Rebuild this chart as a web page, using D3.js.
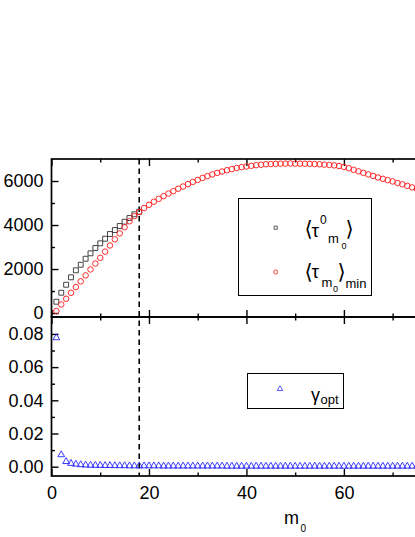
<!DOCTYPE html>
<html>
<head>
<meta charset="utf-8">
<script src="https://cdn.jsdelivr.net/npm/d3@7"></script>
<style>
    body { margin: 0; background: #fff; }
    svg { display: block; font-family: "Liberation Sans", Arial, sans-serif; }
</style>
</head>
<body>
<div class="chart"></div>
<script>
// <tau^0_m0> : only computed up to the dashed line
const tauZero = [514, 923, 1286, 1623, 1941, 2195, 2468, 2714, 2955, 3168,
    3377, 3591, 3773, 3955, 4150, 4318, 4486, 4605];

// <tau_m0>_min
const tauMin = [90, 390, 650, 920, 1180, 1440, 1710, 1980, 2250, 2510,
    2790, 3070, 3350, 3620, 3900, 4170, 4400, 4590, 4770, 4920,
    5060, 5190, 5310, 5430, 5540, 5650, 5750, 5860, 5960, 6050,
    6140, 6220, 6300, 6370, 6430, 6490, 6540, 6590, 6630, 6660,
    6690, 6720, 6740, 6760, 6770, 6780, 6790, 6790, 6795, 6790,
    6790, 6785, 6780, 6770, 6760, 6745, 6730, 6710, 6680, 6640,
    6580, 6510, 6440, 6370, 6300, 6230, 6160, 6100, 6040, 5980,
    5910, 5850, 5780, 5710, 5640];

// gamma_opt
const gammaOpt = [0.0777, 0.0072, 0.0031, 0.0020, 0.0015, 0.0012, 0.0010, 0.0009, 0.0008, 0.0008,
    0.0007, 0.0007, 0.0006, 0.0006, 0.0006, 0.0005, 0.0005, 0.0005, 0.0005, 0.0005,
    0.0005, 0.0005, 0.0004, 0.0004, 0.0004, 0.0004, 0.0004, 0.0004, 0.0004, 0.0004,
    0.0004, 0.0004, 0.0004, 0.0004, 0.0004, 0.0003, 0.0003, 0.0003, 0.0003, 0.0003,
    0.0003, 0.0003, 0.0003, 0.0003, 0.0003, 0.0003, 0.0003, 0.0003, 0.0003, 0.0003,
    0.0003, 0.0003, 0.0003, 0.0003, 0.0003, 0.0003, 0.0003, 0.0003, 0.0003, 0.0003,
    0.0003, 0.0003, 0.0003, 0.0003, 0.0003, 0.0003, 0.0003, 0.0003, 0.0003, 0.0003,
    0.0003, 0.0003, 0.0003, 0.0003, 0.0003];

const xTicksMajor = [0, 20, 40, 60];
const xTicksMinor = [10, 30, 50, 70];
const tauTicksMajor = [0, 2000, 4000, 6000];
const tauTicksMinor = [1000, 3000, 5000];
const gammaTicksMajor = [0, 0.02, 0.04, 0.06, 0.08];
const gammaTicksMinor = [0.01, 0.03, 0.05, 0.07];
const optimalM0 = 18;

const W = 415, H = 537;
const left = 51.5, right = 417;
const topY = 159, midY = 317, bottomY = 476;

const svg = d3.select(".chart").append("svg")
    .attr("width", W)
    .attr("height", H);

const x = d3.scaleLinear().domain([0, 75]).range([left, right]);
const yTau = d3.scaleLinear().domain([-180, 7000]).range([midY, topY]);
const yGamma = d3.scaleLinear().domain([-0.0056, 0.0902]).range([bottomY, midY]);

const asPoints = (arr) => arr.map((v, i) => ({m: i + 1, v: v}));

function drawTicks(g, axis, values, size, fmt) {
    g.call(axis.tickValues(values).tickSize(size).tickSizeOuter(0)
        .tickFormat(fmt || ""))
        .call(s => s.select(".domain").remove());
    g.selectAll(".tick line").attr("stroke", "#000").attr("stroke-width", 1.4);
    g.selectAll(".tick text")
        .attr("fill", "#000")
        .style("font-size", "18px")
        .style("font-family", "'Liberation Sans', Arial, sans-serif");
}

function drawPanel(y0, y1, yScale, major, minor, fmt) {
    const g = svg.append("g");
    // inward ticks on all sides
    drawTicks(g.append("g").attr("transform", `translate(${left},0)`),
        d3.axisLeft(yScale).tickPadding(8), major, -7, fmt);
    drawTicks(g.append("g").attr("transform", `translate(${left},0)`),
        d3.axisLeft(yScale), minor, -3.5);
    drawTicks(g.append("g").attr("transform", `translate(0,${y0})`),
        d3.axisTop(x), xTicksMajor, -7);
    drawTicks(g.append("g").attr("transform", `translate(0,${y0})`),
        d3.axisTop(x), xTicksMinor, -3.5);
    drawTicks(g.append("g").attr("transform", `translate(0,${y1})`),
        d3.axisBottom(x), xTicksMajor, -7);
    drawTicks(g.append("g").attr("transform", `translate(0,${y1})`),
        d3.axisBottom(x), xTicksMinor, -3.5);
    g.append("rect")
        .attr("x", left).attr("y", y0)
        .attr("width", right + 10 - left).attr("height", y1 - y0)
        .attr("fill", "none").attr("stroke", "#000").attr("stroke-width", 1.7);
    return g;
}

drawPanel(topY, midY, yTau, tauTicksMajor, tauTicksMinor, d3.format("d"));
drawPanel(midY, bottomY, yGamma, gammaTicksMajor, gammaTicksMinor, d3.format(".2f"));

// x tick labels only on the bottom axis
drawTicks(svg.append("g").attr("transform", `translate(0,${bottomY})`),
    d3.axisBottom(x).tickPadding(10), xTicksMajor, 0, d3.format("d"));

// dashed line at the optimal m0
svg.append("line")
    .attr("x1", x(optimalM0)).attr("x2", x(optimalM0))
    .attr("y1", topY).attr("y2", bottomY)
    .attr("stroke", "#000").attr("stroke-width", 1.6)
    .attr("stroke-dasharray", "5.5,4");

const square = d3.symbol().type(d3.symbolSquare).size(24);
const circle = d3.symbol().type(d3.symbolCircle).size(24);
const triangle = d3.symbol().type(d3.symbolTriangle).size(20);

function drawMarkers(data, yScale, sym, color) {
    svg.append("g").selectAll("path")
        .data(asPoints(data)).enter()
        .append("path")
        .attr("transform", d => `translate(${x(d.m)},${yScale(d.v)})`)
        .attr("d", sym)
        .attr("fill", "none")
        .attr("stroke", color)
        .attr("stroke-width", 0.95);
}

drawMarkers(tauZero, yTau, square, "#3a3a3a");
drawMarkers(tauMin, yTau, circle, "#ff2020");
drawMarkers(gammaOpt, yGamma, triangle, "#3030ff");

// x label
svg.append("text").attr("x", 284).attr("y", 524).style("font-size", "18px").text("m");
svg.append("text").attr("x", 300.5).attr("y", 532).style("font-size", "10px").text("0");

// legends
function label(g, s, lx, ly, size, family) {
    g.append("text").attr("x", lx).attr("y", ly)
        .style("font-size", size + "px")
        .style("font-family", family || "'Liberation Sans', Arial, sans-serif")
        .text(s);
}
const bracket = "'DejaVu Sans', sans-serif";

const leg1 = svg.append("g");
leg1.append("rect").attr("x", 238.5).attr("y", 198.5).attr("width", 133).attr("height", 97)
    .attr("fill", "#fff").attr("stroke", "#000").attr("stroke-width", 1);
leg1.append("path").attr("transform", "translate(275.7,227.7)")
    .attr("d", d3.symbol().type(d3.symbolSquare).size(10))
    .attr("fill", "none").attr("stroke", "#333").attr("stroke-width", 0.8);
leg1.append("path").attr("transform", "translate(275.7,272)")
    .attr("d", d3.symbol().type(d3.symbolCircle).size(13))
    .attr("fill", "none").attr("stroke", "#ff2020").attr("stroke-width", 0.8);
label(leg1, "\u27E8", 304.5, 235.5, 21, bracket);
label(leg1, "\u03C4", 311.5, 237, 19);
label(leg1, "0", 320, 224, 12);
label(leg1, "m", 328, 243, 13);
label(leg1, "0", 341.5, 248.5, 9);
label(leg1, "\u27E9", 345.5, 235.5, 21, bracket);

label(leg1, "\u27E8", 304.5, 279, 21, bracket);
label(leg1, "\u03C4", 311.5, 278, 19);
label(leg1, "m", 321.5, 286.5, 13);
label(leg1, "0", 333, 291.5, 9);
label(leg1, "\u27E9", 337.5, 279, 21, bracket);
label(leg1, "min", 345.5, 288, 13);

const leg2 = svg.append("g");
leg2.append("rect").attr("x", 247.5).attr("y", 373.5).attr("width", 96).attr("height", 35)
    .attr("fill", "#fff").attr("stroke", "#000").attr("stroke-width", 1);
leg2.append("path").attr("transform", "translate(280,389)")
    .attr("d", d3.symbol().type(d3.symbolTriangle).size(13))
    .attr("fill", "none").attr("stroke", "#3030ff").attr("stroke-width", 0.8);
label(leg2, "\u03B3", 311, 401, 18);
label(leg2, "opt", 320.5, 404, 13);
</script>
</body>
</html>
